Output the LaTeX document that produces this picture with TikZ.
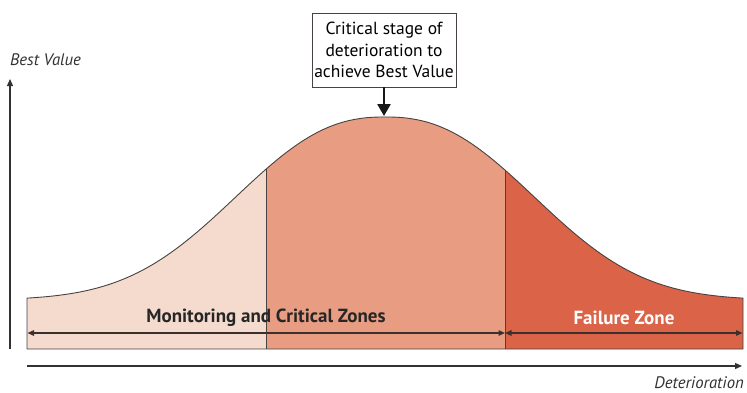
\documentclass[tikz,border=0pt]{standalone}
\usepackage{fontspec}
\setmainfont{PT Sans}
\usetikzlibrary{arrows.meta}

\definecolor{zonelight}{RGB}{245,219,205}
\definecolor{zonemid}{RGB}{232,157,130}
\definecolor{zonefail}{RGB}{219,99,72}
\definecolor{edgegray}{RGB}{72,66,64}
\definecolor{axisgray}{RGB}{50,50,50}
\definecolor{spangray}{RGB}{60,48,44}

\begin{document}
\begin{tikzpicture}[x=1pt,y=-1pt,
  declare function={crv(\x)=300-183*exp(-((abs(\x-385)+0.01)/188.6)^2.37);},
  axis/.style={draw=axisgray, line width=1.2pt, -{Triangle[length=7pt,width=6pt]}},
  span/.style={draw=spangray, line width=1.4pt,
    {Triangle[length=6.5pt,width=5.5pt]}-{Triangle[length=6.5pt,width=5.5pt]}},
  outline/.style={draw=edgegray, line width=0.9pt, line join=round},
  divider/.style={draw=edgegray, line width=1pt},
  pointer/.style={draw=black!90, line width=2.6pt, -{Triangle[length=12pt,width=13pt]}},
  callbox/.style={draw=edgegray, line width=0.9pt, fill=white, align=center,
    minimum width=144pt, minimum height=74pt, inner sep=1pt,
    font=\fontsize{17.5}{21.5}\selectfont},
  zonelbl/.style={font=\fontsize{19}{22}\selectfont\bfseries, inner sep=0pt},
  axlbl/.style={font=\fontsize{16.7}{19}\selectfont\itshape, text=axisgray, inner sep=0pt},
]
\useasboundingbox (0,0) rectangle (747,392);

% zone fills under the curve
\fill[zonelight] (27,349) -- plot[domain=27:266, samples=60] (\x,{crv(\x)}) -- (266,349) -- cycle;
\fill[zonemid]   (266,349) -- plot[domain=266:505, samples=80] (\x,{crv(\x)}) -- (505,349) -- cycle;
\fill[zonefail]  (505,349) -- plot[domain=505:743, samples=60] (\x,{crv(\x)}) -- (743,349) -- cycle;

% outline of the whole curve area
\draw[outline] (27,349) -- plot[domain=27:743, samples=200] (\x,{crv(\x)}) -- (743,349) -- cycle;

% zone boundaries
\coordinate (d1b) at (266,349);
\coordinate (d1t) at (266,{crv(266)});
\coordinate (d2b) at (505,349);
\coordinate (d2t) at (505,{crv(505)});
\draw[divider] (d1b) -- (d1t);
\draw[divider] (d2b) -- (d2t);

% zone spans
\coordinate (s0) at (27.5,333);
\coordinate (s1) at (505,333);
\coordinate (s2) at (742.5,333);
\draw[span] (s0) -- (s1);
\draw[span] (s1) -- (s2);

\node[zonelbl, text=black!85] (mon) at (266,318) {Monitoring and Critical Zones};
\node[zonelbl, text=white] (fail) at (624,318) {Failure Zone};

% axes
\coordinate (yb) at (10,349);
\coordinate (yt) at (10,79);
\draw[axis] (yb) -- (yt);
\coordinate (xl) at (27,366);
\coordinate (xr) at (742,366);
\draw[axis] (xl) -- (xr);

\node[axlbl, anchor=west] (ylab) at (10,60) {Best Value};
\node[axlbl, anchor=east] (xlab) at (744,383) {Deterioration};

% call-out pointing at the peak
\node[callbox] (callout) at (384,50) {Critical stage of\\deterioration to\\achieve Best Value};
\coordinate (peak) at (384,116);
\draw[pointer] (callout.south) -- (peak);
\end{tikzpicture}
\end{document}
